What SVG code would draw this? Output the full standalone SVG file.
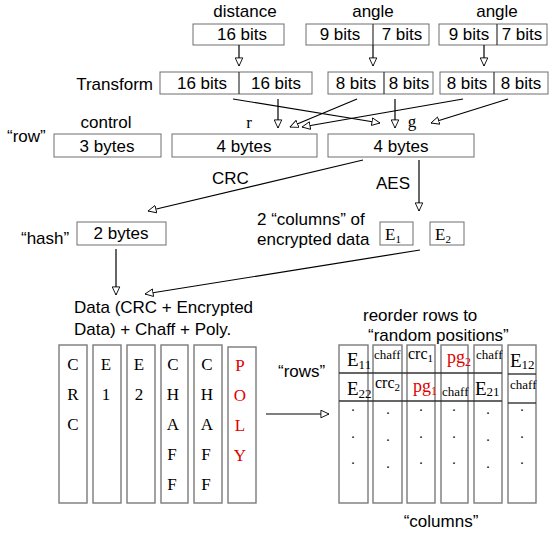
<svg xmlns="http://www.w3.org/2000/svg" width="557" height="535" viewBox="0 0 557 535">
<defs>
<marker id="ah" viewBox="0 0 10 10" refX="9.5" refY="5" markerWidth="9" markerHeight="9" markerUnits="userSpaceOnUse" orient="auto">
<path d="M0.5,0.8 L9.5,5 L0.5,9.2 z" fill="#fff" stroke="#000" stroke-width="1"/>
</marker>
<style>
.s{font-family:"Liberation Sans",Arial,sans-serif;font-size:17px;fill:#000}
.m{text-anchor:middle}
.e{text-anchor:end}
.t{font-family:"Liberation Serif","Times New Roman",serif;fill:#000}
.red{fill:#e00000}
.bx{fill:#fff;stroke:#6e6e6e;stroke-width:1}
.col{fill:#fff;stroke:#7a7a7a;stroke-width:1.4}
.dv{stroke:#333;stroke-width:1.4}
.ln{stroke:#000;stroke-width:1.2;fill:none;marker-end:url(#ah)}
.sep{stroke:#333;stroke-width:1.2}
</style>
</defs>
<rect width="557" height="535" fill="#fff"/>

<g id="distance">
<text class="s m" x="245" y="17">distance</text>
<rect class="bx" x="193" y="24" width="91" height="21"/>
<text class="s m" x="242" y="40">16 bits</text>
</g>
<g id="angle1">
<text class="s m" x="373" y="17">angle</text>
<rect class="bx" x="306" y="24" width="123" height="21"/>
<line class="sep" x1="373" y1="24" x2="373" y2="45"/>
<text class="s m" x="340" y="40">9 bits</text>
<text class="s m" x="402" y="40">7 bits</text>
</g>
<g id="angle2">
<text class="s m" x="497" y="17">angle</text>
<rect class="bx" x="439" y="24" width="108" height="21"/>
<line class="sep" x1="497" y1="24" x2="497" y2="45"/>
<text class="s m" x="469" y="40">9 bits</text>
<text class="s m" x="522" y="40">7 bits</text>
</g>

<g id="transform">
<text class="s e" x="153" y="90">Transform</text>
<rect class="bx" x="160" y="72" width="152" height="22"/>
<line class="sep" x1="239" y1="72" x2="239" y2="94"/>
<text class="s m" x="202" y="89">16 bits</text>
<text class="s m" x="276" y="89">16 bits</text>
<rect class="bx" x="328" y="72" width="105" height="22"/>
<line class="sep" x1="384" y1="72" x2="384" y2="94"/>
<text class="s m" x="356" y="89">8 bits</text>
<text class="s m" x="409" y="89">8 bits</text>
<rect class="bx" x="440" y="72" width="108" height="22"/>
<line class="sep" x1="494" y1="72" x2="494" y2="94"/>
<text class="s m" x="467" y="89">8 bits</text>
<text class="s m" x="521" y="89">8 bits</text>
</g>

<g id="row">
<text class="s" x="7" y="142">“row”</text>
<text class="s m" x="106" y="128">control</text>
<text class="t m" x="249" y="128" font-size="17">r</text>
<text class="t m" x="412" y="127" font-size="17">g</text>
<rect class="bx" x="54" y="134" width="107" height="23"/>
<text class="s m" x="107" y="152">3 bytes</text>
<rect class="bx" x="172" y="134" width="145" height="23"/>
<text class="s m" x="244" y="152">4 bytes</text>
<rect class="bx" x="328" y="134" width="146" height="23"/>
<text class="s m" x="401" y="152">4 bytes</text>
</g>

<g id="hash">
<text class="s" x="21" y="244">“hash”</text>
<rect class="bx" x="77" y="222" width="89" height="23"/>
<text class="s m" x="121" y="239">2 bytes</text>
</g>

<g id="encrypted">
<text class="s" x="257" y="225">2 “columns” of</text>
<text class="s" x="257" y="245">encrypted data</text>
<rect class="bx" x="380" y="222" width="33" height="23"/>
<text class="t" x="385" y="240" font-size="17">E<tspan font-size="11" dy="3">1</tspan></text>
<rect class="bx" x="430" y="222" width="34" height="23"/>
<text class="t" x="435" y="240" font-size="17">E<tspan font-size="11" dy="3">2</tspan></text>
</g>

<g id="labels">
<text class="s" x="212" y="184">CRC</text>
<text class="s" x="376" y="189">AES</text>
</g>

<g id="data">
<text class="s" x="74" y="313">Data (CRC + Encrypted</text>
<text class="s" x="74" y="335">Data) + Chaff + Poly.</text>
<rect class="col" x="59" y="345" width="28" height="158"/>
<rect class="col" x="93" y="345" width="28" height="158"/>
<rect class="col" x="127" y="345" width="28" height="158"/>
<rect class="col" x="161" y="345" width="27" height="158"/>
<rect class="col" x="194" y="345" width="28" height="158"/>
<rect class="col" x="228" y="347" width="28" height="156"/>
<g class="t m" font-size="17">
<text x="73" y="370">C</text><text x="73" y="400">R</text><text x="73" y="430">C</text>
<text x="106" y="370">E</text><text x="106" y="400">1</text>
<text x="139" y="370">E</text><text x="139" y="400">2</text>
<text x="173" y="370">C</text><text x="173" y="400">H</text><text x="173" y="430">A</text><text x="172" y="460">F</text><text x="172" y="490">F</text>
<text x="207" y="370">C</text><text x="207" y="400">H</text><text x="207" y="430">A</text><text x="206" y="460">F</text><text x="206" y="490">F</text>
<text class="red" x="240" y="371">P</text><text class="red" x="240" y="401">O</text><text class="red" x="240" y="431">L</text><text class="red" x="240" y="461">Y</text>
</g>
</g>

<g id="reordered">
<text class="s" x="363" y="321">reorder rows to</text>
<text class="s" x="368" y="341">“random positions”</text>
<text class="s" x="278" y="377">“rows”</text>
<text class="s m" x="441" y="527">“columns”</text>
<rect class="col" x="339" y="345" width="29" height="158"/>
<rect class="col" x="373" y="345" width="29" height="158"/>
<rect class="col" x="407" y="345" width="28" height="158"/>
<rect class="col" x="441" y="345" width="27" height="158"/>
<rect class="col" x="474" y="345" width="28" height="158"/>
<rect class="col" x="508" y="345" width="28" height="158"/>
<g class="dv">
<line x1="339" y1="373" x2="502" y2="373"/>
<line x1="339" y1="401" x2="502" y2="401"/>
<line x1="508" y1="374" x2="536" y2="374"/>
<line x1="508" y1="403" x2="536" y2="403"/>
</g>
<g class="t">
<text x="347" y="366" font-size="19">E<tspan font-size="13" dy="3">11</tspan></text>
<text x="374" y="359" font-size="13">chaff</text>
<text x="408" y="359" font-size="16">crc<tspan font-size="11" dy="3">1</tspan></text>
<text class="red" x="447" y="363" font-size="18">pg<tspan font-size="12" dy="3">2</tspan></text>
<text x="476" y="359" font-size="13">chaff</text>
<text x="510" y="367" font-size="19">E<tspan font-size="13" dy="2">12</tspan></text>
<text x="347" y="395" font-size="19">E<tspan font-size="13" dy="3">22</tspan></text>
<text x="375" y="388" font-size="16">crc<tspan font-size="11" dy="3">2</tspan></text>
<text class="red" x="413" y="392" font-size="18">pg<tspan font-size="12" dy="3">1</tspan></text>
<text x="442" y="396" font-size="13">chaff</text>
<text x="475" y="395" font-size="19">E<tspan font-size="13" dy="1">21</tspan></text>
<text x="510" y="389" font-size="13">chaff</text>
</g>
<g class="t m" font-size="14">
<text x="353" y="411">.</text><text x="353" y="438">.</text><text x="353" y="464">.</text>
<text x="388" y="414">.</text><text x="388" y="441">.</text><text x="388" y="468">.</text>
<text x="421" y="411">.</text><text x="421" y="438">.</text><text x="421" y="464">.</text>
<text x="454" y="411">.</text><text x="454" y="438">.</text><text x="454" y="464">.</text>
<text x="488" y="414">.</text><text x="488" y="441">.</text><text x="488" y="468">.</text>
<text x="522" y="411">.</text><text x="522" y="438">.</text><text x="522" y="464">.</text>
</g>
</g>

<g id="connectors">
<line class="ln" x1="239" y1="45" x2="239" y2="66"/>
<line class="ln" x1="373" y1="45" x2="373" y2="66"/>
<line class="ln" x1="484" y1="45" x2="484" y2="66"/>
<line class="ln" x1="233" y1="99" x2="380" y2="123"/>
<line class="ln" x1="278" y1="99" x2="278" y2="128"/>
<line class="ln" x1="357" y1="99" x2="290" y2="127"/>
<line class="ln" x1="463" y1="99" x2="302" y2="127"/>
<line class="ln" x1="395" y1="99" x2="395" y2="128"/>
<line class="ln" x1="508" y1="99" x2="431" y2="123"/>
<line class="ln" x1="363" y1="160" x2="148" y2="211"/>
<line class="ln" x1="419" y1="160" x2="419" y2="211"/>
<line class="ln" x1="116" y1="249" x2="116" y2="295"/>
<line class="ln" x1="420" y1="250" x2="145" y2="294"/>
<line class="ln" x1="266" y1="414" x2="329" y2="414"/>
</g>
</svg>
